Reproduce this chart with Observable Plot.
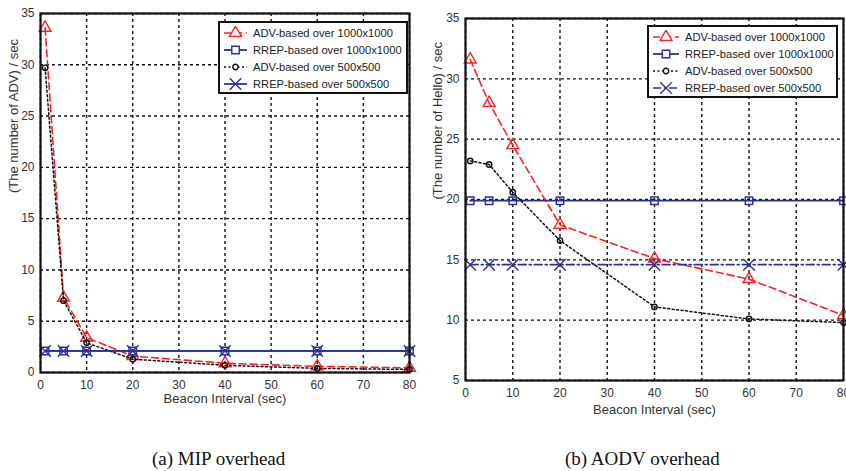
<!DOCTYPE html>
<html>
<head>
<meta charset="utf-8">
<script src="https://cdn.jsdelivr.net/npm/d3@7"></script>
<script src="https://cdn.jsdelivr.net/npm/@observablehq/plot@0.6"></script>
<style>
  html, body { margin: 0; padding: 0; background: #fff; overflow: hidden; width: 846px; height: 471px; }
  #wrap { position: relative; width: 846px; height: 471px; }
  .panel { position: absolute; top: 0; }
  .legend { position: absolute; background: #fff; border: 2px solid #111; box-sizing: border-box;
            font-family: "Liberation Sans", Arial, sans-serif; font-size: 11.2px; color: #222; padding-top: 1px; }
  .legend .row { display: flex; align-items: center; height: 17px; white-space: nowrap; }
  .legend svg { flex: none; margin-right: 5px; }
  .caption { position: absolute; font-family: "Liberation Serif", "Times New Roman", serif; font-size: 19px; color: #111; white-space: nowrap; }
</style>
</head>
<body>
<div id="wrap"></div>
<script>
// ---- data ----
const beaconIntervals = [1, 5, 10, 20, 40, 60, 80];
const xTicks = [0, 10, 20, 30, 40, 50, 60, 70, 80];
const mipYTicks = [0, 5, 10, 15, 20, 25, 30, 35];
const aodvYTicks = [5, 10, 15, 20, 25, 30, 35];
const seriesNames = ["ADV-based over 1000x1000", "RREP-based over 1000x1000", "ADV-based over 500x500", "RREP-based over 500x500"];

const mipAdv1000 = [33.6, 7.3, 3.4, 1.6, 0.9, 0.6, 0.45];
const mipRrep1000 = [2.1, 2.1, 2.1, 2.1, 2.1, 2.1, 2.1];
const mipAdv500 = [29.7, 7.0, 2.9, 1.3, 0.7, 0.4, 0.3];
const mipRrep500 = [2.1, 2.1, 2.1, 2.1, 2.1, 2.1, 2.1];

const aodvAdv1000 = [31.6, 28.0, 24.5, 17.9, 15.1, 13.4, 10.4];
const aodvRrep1000 = [19.9, 19.9, 19.9, 19.9, 19.9, 19.9, 19.9];
const aodvAdv500 = [23.2, 22.9, 20.6, 16.6, 11.1, 10.1, 9.8];
const aodvRrep500 = [14.6, 14.6, 14.6, 14.6, 14.6, 14.6, 14.6];

// ---- styles ----
const RED = "#ff1f1f", BLUE = "#2a2f9a", BLACK = "#111";
const mipStyles = [
  {stroke: RED, dash: "7,4", width: 1.6, symbol: "triangle", r: 4.4},
  {stroke: BLUE, dash: null, width: 1.8, symbol: "square", r: 4.2},
  {stroke: BLACK, dash: "2,2.5", width: 1.5, symbol: "circle", r: 2.7},
  {stroke: BLUE, dash: null, width: 1.8, symbol: "times", r: 5.3}
];
const aodvStyles = [
  {stroke: RED, dash: "7,4", width: 1.6, symbol: "triangle", r: 4.4},
  {stroke: BLUE, dash: null, width: 1.8, symbol: "square", r: 4.2},
  {stroke: BLACK, dash: "2,2.5", width: 1.5, symbol: "circle", r: 2.7},
  {stroke: BLUE, dash: "8,3,2,3", width: 1.6, symbol: "times", r: 5.3}
];

function rows(values) { return beaconIntervals.map((x, i) => ({x, y: values[i]})); }

function makePanel(opts) {
  const marks = [
    Plot.gridX(xTicks, {stroke: "#111", strokeOpacity: 1, strokeWidth: 1.4, strokeDasharray: "3,3"}),
    Plot.gridY(opts.yTicks, {stroke: "#111", strokeOpacity: 1, strokeWidth: 1.4, strokeDasharray: "3,3"}),
    Plot.axisX(xTicks, {tickSize: 0, tickPadding: 8, fontSize: 12, fill: "#333", label: null}),
    Plot.axisY(opts.yTicks, {tickSize: 0, tickPadding: 6, fontSize: 12, fill: "#333", label: null}),
  ];
  opts.series.forEach((vals, i) => {
    const s = opts.styles[i];
    marks.push(Plot.line(rows(vals), {x: "x", y: "y", stroke: s.stroke, strokeWidth: s.width, strokeDasharray: s.dash}));
    marks.push(Plot.dot(rows(vals), {x: "x", y: "y", stroke: s.stroke, strokeWidth: 1.4, fill: "none", symbol: s.symbol, r: s.r}));
  });
  marks.push(Plot.frame({stroke: "#111", strokeWidth: 2.2}));
  marks.push(Plot.text([opts.xLabel], {frameAnchor: "bottom", dy: opts.xLabelDy, text: d => d, fontSize: 13, fill: "#333"}));
  marks.push(Plot.text([opts.yLabel], {frameAnchor: "left", dx: opts.yLabelDx, rotate: -90, text: d => d, fontSize: 13, fill: "#333"}));
  return Plot.plot({
    width: opts.width, height: opts.height,
    marginLeft: opts.ml, marginRight: opts.mr, marginTop: opts.mt, marginBottom: opts.mb,
    style: {fontFamily: "'Liberation Sans', Arial, sans-serif", background: "transparent", overflow: "visible"},
    x: {domain: [0, 80], axis: null},
    y: {domain: opts.yDomain, axis: null},
    marks
  });
}

function legendSwatch(s, w) {
  const h = 14;
  const path = d3.symbol(
    {triangle: d3.symbolTriangle, square: d3.symbolSquare, circle: d3.symbolCircle, times: d3.symbolTimes}[s.symbol],
    Math.PI * s.r * s.r)();
  return `<svg width="${w}" height="${h}"><line x1="1" x2="${w - 1}" y1="${h / 2}" y2="${h / 2}" stroke="${s.stroke}" stroke-width="${s.width}" ${s.dash ? `stroke-dasharray="${s.dash}"` : ""}/>` +
    `<path d="${path}" transform="translate(${w / 2},${h / 2})" fill="#fff" stroke="${s.stroke}" stroke-width="1.4"/></svg>`;
}

function makeLegend(styles, left, top, width, height, padLeft, swatchW) {
  const div = document.createElement("div");
  div.className = "legend";
  Object.assign(div.style, {left: left + "px", top: top + "px", width: width + "px", height: height + "px", paddingLeft: padLeft + "px"});
  div.innerHTML = seriesNames.map((n, i) => `<div class="row">${legendSwatch(styles[i], swatchW)}<span>${n}</span></div>`).join("");
  return div;
}

const wrap = document.getElementById("wrap");

const left = document.createElement("div");
left.className = "panel"; left.style.left = "0px";
left.appendChild(makePanel({
  width: 420, height: 420, ml: 40, mr: 11, mt: 13, mb: 48,
  yDomain: [0, 35], yTicks: mipYTicks,
  series: [mipAdv1000, mipRrep1000, mipAdv500, mipRrep500], styles: mipStyles,
  xLabel: "Beacon Interval (sec)", xLabelDy: 30,
  yLabel: "(The number of ADV) / sec", yLabelDx: -27
}));
wrap.appendChild(left);

const right = document.createElement("div");
right.className = "panel"; right.style.left = "420px";
right.appendChild(makePanel({
  width: 426, height: 425, ml: 45, mr: 3, mt: 18, mb: 45,
  yDomain: [5, 35], yTicks: aodvYTicks,
  series: [aodvAdv1000, aodvRrep1000, aodvAdv500, aodvRrep500], styles: aodvStyles,
  xLabel: "Beacon Interval (sec)", xLabelDy: 33,
  yLabel: "(The number of Hello) / sec", yLabelDx: -28
}));
wrap.appendChild(right);

wrap.appendChild(makeLegend(mipStyles, 218, 21, 190, 73, 3, 25));
wrap.appendChild(makeLegend(aodvStyles, 647, 25, 191, 73, 3, 28));

const capA = document.createElement("div");
capA.className = "caption"; capA.textContent = "(a) MIP overhead";
Object.assign(capA.style, {left: "152px", top: "448px"});
wrap.appendChild(capA);
const capB = document.createElement("div");
capB.className = "caption"; capB.textContent = "(b) AODV overhead";
Object.assign(capB.style, {left: "565px", top: "448px"});
wrap.appendChild(capB);
</script>
</body>
</html>
